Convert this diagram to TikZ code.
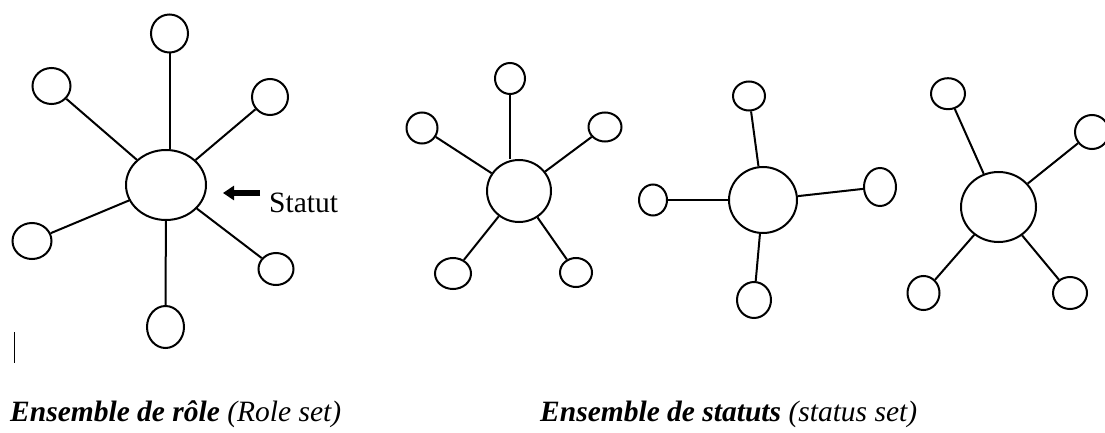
\documentclass[tikz,border=0pt]{standalone}
\usepackage{fontspec}
\setmainfont{Liberation Serif}
\usetikzlibrary{arrows.meta,shapes.geometric}
\tikzset{
  spoke/.style={line width=2pt},
  caption/.style={anchor=base west, inner sep=0pt, font=\fontsize{29.5}{34}\selectfont}
}
\newcommand{\ov}[5]{\node[draw, ellipse, line width=2pt, inner sep=0pt, minimum width=#4, minimum height=#5] (#1) at (#2,#3) {};}
\begin{document}
\begin{tikzpicture}[x=1pt,y=-1pt]
\useasboundingbox (0,0) rectangle (1105,433);
% cluster 1 (role set)
\ov{a0}{166}{185}{80}{70}
\ov{a1}{169.5}{33.5}{37}{38}
\ov{a2}{51.5}{86}{38}{36}
\ov{a3}{270}{97}{36}{36}
\ov{a4}{32}{241}{39}{36}
\ov{a5}{276}{269}{35}{32}
\ov{a6}{165.5}{327}{37}{42}
\draw[spoke] (a1.south) -- (a1.south |- a0.north);
\foreach \n in {a2,a3,a4,a5,a6} \draw[spoke] (a0) -- (\n);
% arrow and label
\coordinate (arrS) at (260,193);
\coordinate (arrE) at (223,193);
\draw[line width=5.5pt, -{Triangle[length=11pt,width=14pt]}] (arrS) -- (arrE);
\node[anchor=base west, inner sep=0pt, font=\fontsize{29.5}{34}\selectfont] (statut) at (269,212) {Statut};
% stray mark
\coordinate (barT) at (14,332);
\coordinate (barB) at (14,363);
\draw[line width=1pt] (barT) -- (barB);
% cluster 2
\ov{b0}{519}{191}{64}{62}
\ov{b1}{510}{78.5}{30}{31}
\ov{b2}{422}{128}{31}{31}
\ov{b3}{605}{127}{33}{29}
\ov{b4}{453}{273.5}{36}{31}
\ov{b5}{576}{272.5}{32}{29}
\draw[spoke] (b1.south) -- (b1.south |- b0.north);
\foreach \n in {b2,b3,b4,b5} \draw[spoke] (b0) -- (\n);
% cluster 3
\ov{c0}{763}{200}{68}{66}
\ov{c1}{749}{96}{32}{29}
\ov{c2}{653}{200}{28}{31}
\ov{c3}{880}{187}{32}{38}
\ov{c4}{754}{300}{34}{36}
\foreach \n in {c1,c2,c3,c4} \draw[spoke] (c0) -- (\n);
% cluster 4
\ov{d0}{998.5}{207}{75}{70}
\ov{d1}{948}{93.7}{34}{31}
\ov{d2}{1092}{132}{34}{34}
\ov{d3}{923.5}{293}{32}{34}
\ov{d4}{1070}{293}{34}{32}
\foreach \n in {d1,d2,d3,d4} \draw[spoke] (d0) -- (\n);
% captions
\node[caption] (cap1) at (10,421) {\textbf{\textit{Ensemble de rôle}} \textit{(Role set)}};
\node[caption] (cap2) at (540,421) {\textbf{\textit{Ensemble de statuts}} \textit{(status set)}};
\end{tikzpicture}
\end{document}
